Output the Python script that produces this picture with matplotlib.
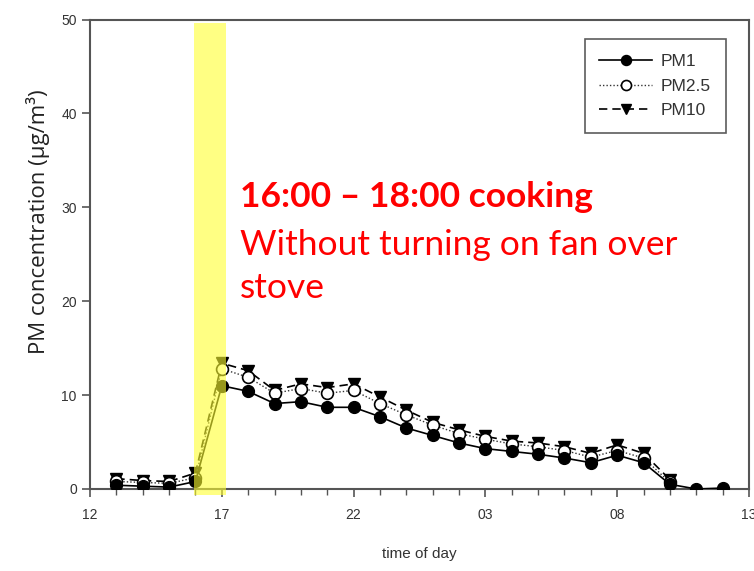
import matplotlib
matplotlib.use("Agg")
import matplotlib.pyplot as plt

hours = list(range(13, 37))
pm1 = [0.4, 0.3, 0.2, 0.8, 11.0, 10.4, 9.1, 9.3, 8.7, 8.7, 7.7, 6.5,
       5.7, 4.9, 4.3, 4.0, 3.7, 3.3, 2.8, 3.6, 2.8, 0.5, 0.0, 0.1]
hours_b = list(range(13, 35))
pm25 = [0.8, 0.7, 0.6, 1.2, 12.8, 11.9, 10.2, 10.7, 10.2, 10.5, 9.1, 7.9,
        6.8, 5.9, 5.3, 4.8, 4.5, 4.1, 3.4, 4.1, 3.3, 0.7]
pm10 = [1.1, 0.9, 0.8, 1.7, 13.4, 12.6, 10.5, 11.2, 10.8, 11.2, 9.8, 8.4,
        7.1, 6.3, 5.6, 5.1, 4.9, 4.5, 3.8, 4.7, 3.8, 1.0]
xticks = [12, 17, 22, 27, 32, 37]
xticklabels = ["12", "17", "22", "03", "08", "13"]
yticks = [0, 10, 20, 30, 40, 50]
cook_start, cook_end = 15.95, 17.15

plt.rcParams['font.family'] = ['Liberation Sans', 'DejaVu Sans']

fig = plt.figure(figsize=(7.54, 5.71), dpi=100)
ax = fig.add_axes([90/754, 1-489/571, (749-90)/754, (489-19.5)/571])

ax.plot(hours, pm1, color='black', lw=1.2, ls='-', marker='o', ms=8.5,
        mfc='black', mec='black', zorder=5, label='PM1')
ax.plot(hours_b, pm25, color='#333333', lw=1.0, ls=(0, (1, 1.5)), marker='o', ms=8.5,
        mfc='white', mec='black', mew=1.2, zorder=4, label='PM2.5')
ax.plot(hours_b, pm10, color='black', lw=1.2, ls=(0, (5, 3)), marker='v', ms=8.5,
        mfc='black', mec='black', zorder=3, label='PM10')

band = plt.Rectangle((cook_start, -0.6), cook_end - cook_start, 49.6 + 0.6,
                     facecolor='#ffff30', alpha=0.6, edgecolor='none',
                     zorder=10, clip_on=False)
ax.add_patch(band)

ax.set_xlim(12, 37)
ax.set_ylim(0, 50)
ax.set_xticks(xticks)
ax.set_xticklabels(xticklabels)
ax.set_xticks(range(12, 38), minor=True)
ax.set_yticks(yticks)
for s in ax.spines.values():
    s.set_color('#555555')
    s.set_linewidth(1.5)
ax.tick_params(axis='both', which='major', direction='out', length=6, width=1.2,
               color='#555555', labelsize=10, labelcolor='#333333')
ax.tick_params(axis='x', which='major', pad=8)
ax.tick_params(axis='x', which='minor', direction='out', length=4, width=1.0, color='#555555')

ax.set_xlabel('time of day', fontsize=11, color='#333333', labelpad=18)

fig.text(38/754, 1-222/571, 'PM concentration (µg/m³)', rotation=90,
         ha='center', va='center', fontsize=16, family=['Open Sans', 'DejaVu Sans'],
         color='#222222')

kw = dict(transform=fig.transFigure, ha='left', va='center', fontsize=25.5,
          color='#ff0000', family=['Lato', 'DejaVu Sans'])
ax.text(240/754, 1-197/571, '16:00 – 18:00 cooking', fontweight='bold', **kw)
ax.text(240/754, 1-245/571, 'Without turning on fan over', **kw)
ax.text(240/754, 1-288/571, 'stove', **kw)

leg = ax.legend(loc='upper right', bbox_to_anchor=(726/754, 1-39/571),
                bbox_transform=fig.transFigure, fontsize=12.5, frameon=True,
                fancybox=False, edgecolor='#333333', markerscale=0.85,
                handlelength=3.0, labelspacing=0.55, borderpad=0.85,
                borderaxespad=0, handletextpad=0.55)
leg.get_frame().set_linewidth(1.2)
for t in leg.get_texts():
    t.set_color('#333333')

fig.savefig('out.png', dpi=100)
